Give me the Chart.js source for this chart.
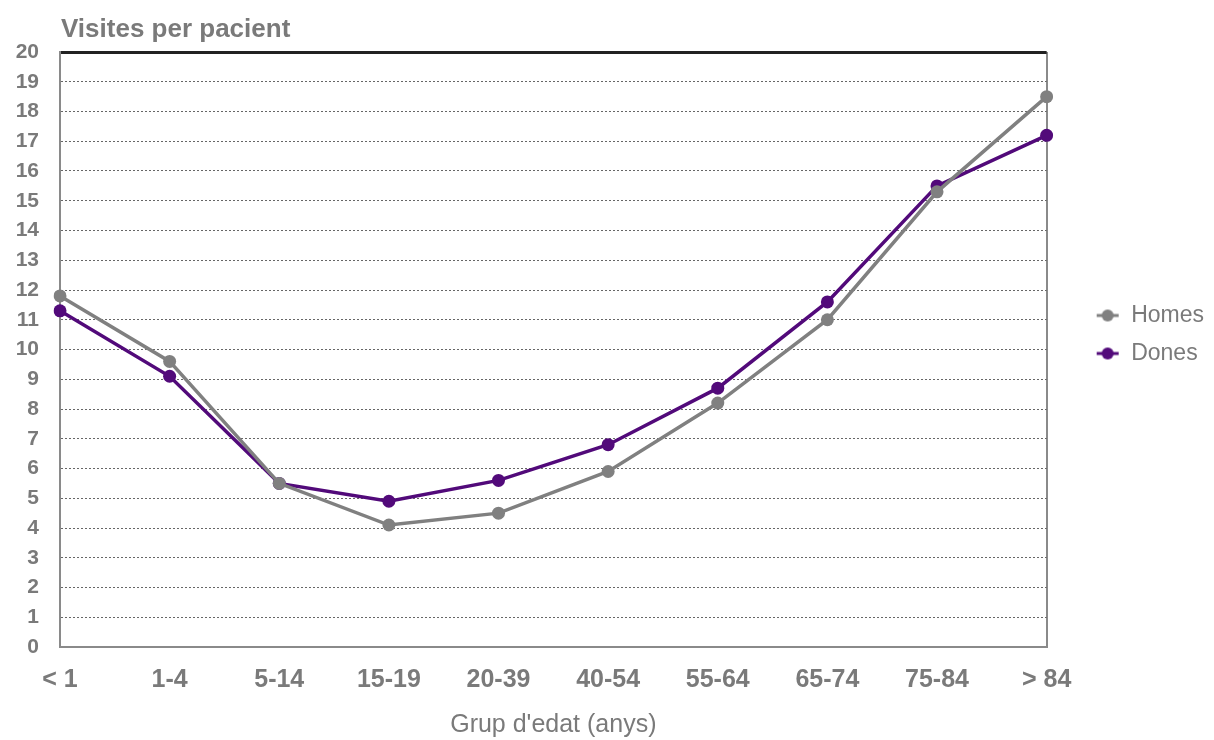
<!DOCTYPE html>
<html>
<head>
  <script src="https://cdn.jsdelivr.net/npm/chart.js"></script>
  <title>Visites per pacient</title>
  <style>
    html, body { margin: 0; padding: 0; background: #fff; }
    #wrap { width: 1214px; height: 740px; position: relative; }
  </style>
</head>
<body>
  <div id="wrap"><canvas id="chart"></canvas></div>

  <script>
    // Data
    let categories = ['< 1', '1-4', '5-14', '15-19', '20-39', '40-54', '55-64', '65-74', '75-84', '> 84'];
    let homes = [11.8, 9.6, 5.5, 4.1, 4.5, 5.9, 8.2, 11.0, 15.3, 18.5];
    let dones = [11.3, 9.1, 5.5, 4.9, 5.6, 6.8, 8.7, 11.6, 15.5, 17.2];
    let yTicks = [0, 20, 1]; // min, max, step

    let grey = '#808080';
    let purple = '#520a7a';
    let textGrey = '#7a7a7a';
    let fontFamily = '"Liberation Sans", Arial, sans-serif';

    // legend marker: a short line with a dot in the middle
    function legendMarker(color) {
      let c = document.createElement('canvas');
      c.width = 24; c.height = 14;
      let g = c.getContext('2d');
      g.strokeStyle = color;
      g.lineWidth = 3;
      g.beginPath(); g.moveTo(1, 7); g.lineTo(23, 7); g.stroke();
      g.fillStyle = color;
      g.beginPath(); g.arc(12, 7, 6, 0, Math.PI * 2); g.fill();
      return c;
    }
    let markers = [legendMarker(grey), legendMarker(purple)];

    // y axis title drawn above the plot, left aligned
    let yTitle = {
      id: 'yTitle',
      afterDraw(chart) {
        let ctx = chart.ctx;
        ctx.save();
        ctx.font = 'bold 26px ' + fontFamily;
        ctx.fillStyle = textGrey;
        ctx.textBaseline = 'alphabetic';
        ctx.fillText('Visites per pacient', chart.chartArea.left + 1, 37);
        ctx.restore();
      }
    };

    let ctx = document.getElementById('chart').getContext('2d');
    new Chart(ctx, {
      type: 'line',
      data: {
        labels: categories,
        datasets: [{
          label: 'Homes',
          data: homes,
          borderColor: grey,
          backgroundColor: grey,
          borderWidth: 3.5,
          pointRadius: 6.5,
          pointHoverRadius: 6.5,
          pointBorderWidth: 0,
          tension: 0
        }, {
          label: 'Dones',
          data: dones,
          borderColor: purple,
          backgroundColor: purple,
          borderWidth: 3.5,
          pointRadius: 6.5,
          pointHoverRadius: 6.5,
          pointBorderWidth: 0,
          tension: 0
        }]
      },
      options: {
        responsive: true,
        maintainAspectRatio: false,
        animation: false,
        layout: { padding: { top: 52, left: 0, right: 0, bottom: 0 } },
        plugins: {
          tooltip: { enabled: false },
          legend: {
            position: 'right',
            align: 'start',
            title: {
              display: true,
              text: '',
              font: { size: 1, lineHeight: 1 },
              padding: { top: 236, bottom: 0 }
            },
            labels: {
              usePointStyle: true,
              pointStyleWidth: 24,
              padding: 15,
              color: textGrey,
              font: { family: fontFamily, size: 23 },
              generateLabels(chart) {
                let items = Chart.defaults.plugins.legend.labels.generateLabels(chart);
                items.forEach((it, i) => { it.pointStyle = markers[i]; });
                return items;
              }
            }
          }
        },
        scales: {
          x: {
            offset: false,
            afterFit(scale) { scale.height = 93; },
            grid: {
              drawTicks: false,
              color: c => (c.index === categories.length - 1 ? '#8a8a8a' : 'transparent'),
              lineWidth: 2
            },
            border: { color: '#8a8a8a', width: 2 },
            ticks: {
              color: textGrey,
              font: { family: fontFamily, size: 25, weight: 'bold' },
              padding: 18,
              maxRotation: 0,
              autoSkip: false
            },
            title: {
              display: true,
              text: "Grup d'edat (anys)",
              color: textGrey,
              font: { family: fontFamily, size: 25 },
              padding: { top: 0, bottom: 0 }
            }
          },
          y: {
            min: yTicks[0],
            max: yTicks[1],
            afterFit(scale) { scale.width = 60; },
            ticks: {
              stepSize: yTicks[2],
              color: textGrey,
              font: { family: fontFamily, size: 21, weight: 'bold' },
              padding: 21
            },
            grid: {
              drawTicks: false,
              color: c => (c.tick.value === 20 ? '#222' : (c.tick.value === 0 ? 'transparent' : '#666')),
              lineWidth: c => (c.tick.value === 20 ? 3 : 1)
            },
            border: {
              color: '#8a8a8a',
              width: 2,
              dash: c => (c.tick && c.tick.value === 20 ? [] : [2, 2])
            }
          },
          // empty axis on the right, only keeps a gap before the legend
          gap: {
            position: 'right',
            display: true,
            afterFit(scale) { scale.width = 34; },
            grid: { display: false, drawTicks: false },
            border: { display: false },
            ticks: { display: false }
          }
        }
      },
      plugins: [yTitle]
    });
  </script>
</body>
</html>
